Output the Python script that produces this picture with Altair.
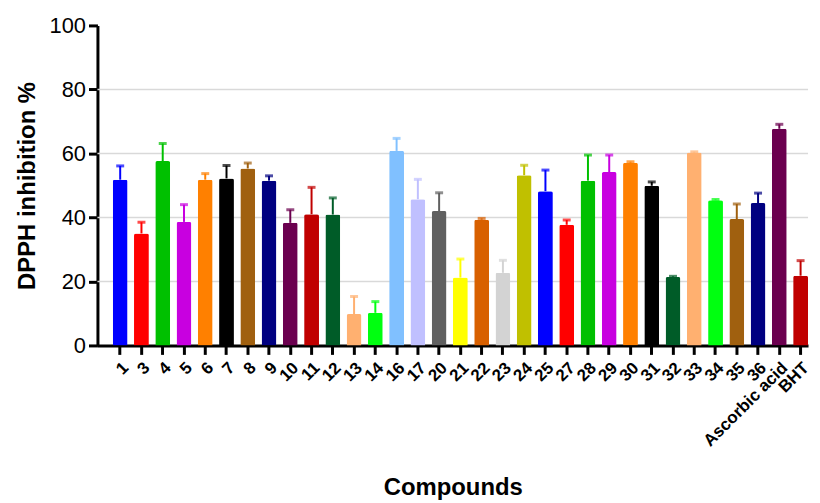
import altair as alt
import pandas as pd

compounds = ["1", "3", "4", "5", "6", "7", "8", "9", "10", "11", "12", "13", "14", "16", "17",
             "20", "21", "22", "23", "24", "25", "27", "28", "29", "30", "31", "32", "33", "34",
             "35", "36", "Ascorbic acid", "BHT"]
values = [51.8, 35.0, 57.6, 38.6, 51.8, 52.2, 55.3, 51.5, 38.3, 41.0, 40.9, 9.8, 10.2, 60.8, 45.7,
          42.0, 21.2, 39.3, 22.7, 53.2, 48.2, 37.7, 51.5, 54.2, 57.1, 49.9, 21.4, 60.3, 45.4,
          39.5, 44.5, 67.7, 21.8]
errors = [4.3, 3.5, 5.5, 5.4, 1.9, 4.0, 1.7, 1.5, 4.1, 8.4, 5.2, 5.5, 3.5, 3.9, 6.2,
          5.7, 5.8, 0.4, 3.9, 3.1, 6.6, 1.5, 8.0, 5.3, 0.3, 1.2, 0.2, 0.2, 0.2,
          4.7, 3.1, 1.4, 4.7]
colors = ["#0000FF", "#FF0000", "#00C000", "#C800E0", "#FF8000", "#000000", "#A0600F", "#000080",
          "#6B004F", "#C00000", "#005C28", "#FFB070", "#00FF10", "#80C0FF", "#C0C0FF", "#606060",
          "#FFFF00", "#D86000", "#D3D3D3", "#C0C000", "#0000FF", "#FF0000", "#00C000", "#C800E0",
          "#FF8000", "#000000", "#005C28", "#FFB070", "#00FF10", "#A0600F", "#000080", "#6B004F",
          "#C00000"]
y_ticks = [0, 20, 40, 60, 80, 100]
grid_vals = [20, 40, 60, 80]

df = pd.DataFrame({"compound": compounds, "value": values, "err": errors})
df["upper"] = df["value"] + df["err"]
grid_df = pd.DataFrame({"g": grid_vals})

FONT = "Liberation Sans"

xenc = alt.X(
    "compound:N", sort=compounds,
    scale=alt.Scale(paddingInner=0.3, paddingOuter=0.36, align=1),
    axis=alt.Axis(title="Compounds", labelAngle=-45, labelFont=FONT, labelFontWeight="bold",
                  labelFontSize=17, labelColor="black", labelPadding=5,
                  titleFont=FONT, titleFontWeight="bold", titleFontSize=24, titleColor="black",
                  titlePadding=27, domainColor="black", domainWidth=3, tickColor="black",
                  tickWidth=3, tickSize=9, grid=False),
)
yscale = alt.Scale(domain=[0, 100], nice=False)
yaxis = alt.Axis(title="DPPH inhibition %", values=y_ticks, labelFont=FONT, labelFontSize=22,
                 labelColor="black", labelPadding=3, titleFont=FONT, titleFontWeight="bold",
                 titleFontSize=24, titleColor="black", titlePadding=10, domainColor="black",
                 domainWidth=3, tickColor="black", tickWidth=3, tickSize=9, grid=False)
cenc = alt.Color("compound:N", scale=alt.Scale(domain=compounds, range=colors), legend=None)

grid = alt.Chart(grid_df).mark_rule(color="#D9D9D9", strokeWidth=1.5).encode(
    y=alt.Y("g:Q", scale=yscale, axis=yaxis)
)
base = alt.Chart(df)
bars = base.mark_bar(cornerRadiusTopLeft=2, cornerRadiusTopRight=2).encode(
    x=xenc, y=alt.Y("value:Q", scale=yscale, axis=yaxis), color=cenc
)
stems = base.mark_rule(strokeWidth=2).encode(
    x=xenc, y=alt.Y("value:Q", scale=yscale), y2="upper:Q", color=cenc
)
caps = base.mark_tick(thickness=3, size=8).encode(
    x=xenc, y=alt.Y("upper:Q", scale=yscale), color=cenc
)

chart = alt.layer(grid, stems, caps, bars).properties(
    width=715, height=322,
    padding={"left": 7, "top": 5, "right": 0, "bottom": 0},
).configure_view(stroke=None)

chart.save("out.html", embed_options={"renderer": "svg", "actions": False})
